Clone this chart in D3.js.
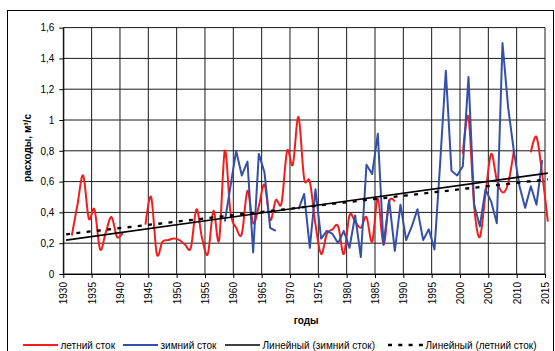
<!DOCTYPE html>
<html>
<head>
<meta charset="utf-8">
<script src="https://cdn.jsdelivr.net/npm/d3@7"></script>
<style>
  body { margin: 0; background: #fff; }
  svg { font-family: "Liberation Sans", Arial, sans-serif; }
  .axis text { font-size: 10px; fill: #000; }
  .axis path, .axis line { stroke: #000; }
  .label { font-size: 10px; font-weight: bold; fill: #000; }
  .legend text { font-size: 10px; fill: #000; }
</style>
</head>
<body>
<svg id="svgChart"></svg>
<script>

/// DATA ////////////////////////////////////////////////////////////////////////////////

var years = d3.range(1930, 2016);

// летний сток, 1930..2015 (null = нет данных)
var summer = [
  null, 0.25, 0.45, 0.64, 0.36, 0.42, 0.16, 0.27, 0.37, 0.24,   // 1930-1939
  0.27, null, null, null, 0.32, 0.50, 0.13, 0.21, 0.22, 0.23,   // 1940-1949
  0.22, 0.19, 0.17, 0.42, 0.23, 0.13, 0.41, 0.22, 0.80, 0.40,   // 1950-1959
  0.30, 0.26, 0.54, 0.33, 0.44, 0.58, 0.35, 0.48, 0.46, 0.80,   // 1960-1969
  0.71, 1.02, 0.62, 0.60, 0.32, 0.13, 0.26, 0.29, 0.31, 0.13,   // 1970-1979
  0.38, 0.34, 0.30, 0.37, 0.21, 0.49, 0.19, 0.47, 0.47, null,   // 1980-1989
  null, null, null, null, null, null, null, null, null, null,   // 1990-1999
  0.78, 1.02, 0.44, 0.24, 0.52, 0.78, 0.61, 0.53, 0.59, 0.80,   // 2000-2009
  null, null, 0.79, 0.89, 0.65, 0.34                            // 2010-2015
];

// зимний сток, 1930..2015
var winter = [
  null, null, null, null, null, null, null, null, null, null,   // 1930-1939
  null, null, null, null, null, null, null, null, null, null,   // 1940-1949
  null, null, null, null, null, null, null, null, 0.34, 0.57,   // 1950-1959
  0.80, 0.64, 0.73, 0.14, 0.78, 0.66, 0.30, 0.28, null, null,   // 1960-1969
  null, 0.42, 0.52, 0.17, 0.55, 0.23, 0.28, 0.26, 0.20, 0.28,   // 1970-1979
  0.17, 0.38, 0.11, 0.71, 0.65, 0.91, 0.19, 0.48, 0.15, 0.45,   // 1980-1989
  0.22, 0.31, 0.42, 0.22, 0.29, 0.16, 0.72, 1.32, 0.67, 0.64,   // 1990-1999
  0.70, 1.28, 0.45, 0.31, 0.55, 0.47, 0.33, 1.50, 1.08, 0.80,   // 2000-2009
  0.57, 0.43, 0.57, 0.45, 0.74, null                            // 2010-2015
];

// linear trend lines (start / end values)
var trendYears = [1930, 2015];
var trendWinter = [0.22, 0.655];
var trendSummer = [0.258, 0.615];

var yTicks = [0, 0.2, 0.4, 0.6, 0.8, 1, 1.2, 1.4, 1.6];
var yTickLabels = ["0", "0,2", "0,4", "0,6", "0,8", "1", "1,2", "1,4", "1,6"];
var xTicks = d3.range(1930, 2016, 5);

var legendItems = [
  { name: "летний сток", color: "#f21d1d", dash: null, width: 2 },
  { name: "зимний сток", color: "#3450a8", dash: null, width: 2 },
  { name: "Линейный (зимний сток)", color: "#000", dash: null, width: 1.6 },
  { name: "Линейный (летний сток)", color: "#000", dash: "4,6.3", width: 2.3 }
];

/// SETUP ///////////////////////////////////////////////////////////////////////////////

var WIDTH = 555, HEIGHT = 351;
var PLOT_LEFT = 63.3, PLOT_RIGHT = 545, PLOT_TOP = 27.6, PLOT_BOTTOM = 274;

var svg = d3.select('#svgChart')
    .attr('width', WIDTH)
    .attr('height', HEIGHT);

// outer chart border
svg.append('rect')
    .attr('x', 7.5).attr('y', 10.5)
    .attr('width', 546).attr('height', 360)
    .attr('fill', 'none')
    .attr('stroke', '#000')
    .attr('stroke-width', 1);

var x = d3.scaleLinear().domain([1930, 2015]).range([PLOT_LEFT, PLOT_RIGHT]);
var y = d3.scaleLinear().domain([0, 1.6]).range([PLOT_BOTTOM, PLOT_TOP]);

// points sit in the middle of each year slot
function px(year) { return x(year + 0.5); }

/////////////////////////////////////////////////////////////////////////////////////////

function drawGrid() {
    var g = svg.append('g').attr('class', 'grid');
    g.selectAll('line.h')
        .data(yTicks)
        .enter()
        .append('line')
            .attr('x1', PLOT_LEFT).attr('x2', PLOT_RIGHT)
            .attr('y1', function (d) { return y(d) })
            .attr('y2', function (d) { return y(d) })
            .attr('stroke', '#1a1a1a')
            .attr('stroke-width', 1);
    g.selectAll('line.v')
        .data(xTicks)
        .enter()
        .append('line')
            .attr('x1', function (d) { return x(d) })
            .attr('x2', function (d) { return x(d) })
            .attr('y1', PLOT_TOP).attr('y2', PLOT_BOTTOM)
            .attr('stroke', '#1a1a1a')
            .attr('stroke-width', 1);
}

function drawAxis() {
    // X-axis
    var xAxis = svg.append('g')
        .attr('class', 'axis')
        .attr('transform', 'translate(0,' + PLOT_BOTTOM + ')')
        .call(d3.axisBottom(x).tickValues(xTicks).tickSize(4).tickSizeOuter(0).tickFormat(d3.format('d')));
    xAxis.selectAll('text')
        .attr('transform', 'rotate(-90)')
        .attr('x', -8)
        .attr('y', 0)
        .attr('dy', '0.35em')
        .style('text-anchor', 'end');

    svg.append('text') // X-axis Label
        .attr('class', 'label')
        .attr('x', (PLOT_LEFT + PLOT_RIGHT) / 2 + 2)
        .attr('y', 324)
        .style('text-anchor', 'middle')
        .text('годы');

    // Y-axis
    svg.append('g')
        .attr('class', 'axis')
        .attr('transform', 'translate(' + PLOT_LEFT + ',0)')
        .call(d3.axisLeft(y).tickValues(yTicks).tickSize(4).tickSizeOuter(0).tickPadding(5)
            .tickFormat(function (d, i) { return yTickLabels[i] }));

    svg.append('text') // Y-axis Label
        .attr('class', 'label')
        .attr('transform', 'translate(31,148) rotate(-90)')
        .style('text-anchor', 'middle')
        .text('расходы, м³/с');
}

function drawSeries() {
    var smooth = d3.line()
        .defined(function (d) { return d.v != null })
        .x(function (d) { return px(d.year) })
        .y(function (d) { return y(d.v) })
        .curve(d3.curveCardinal.tension(0));

    var straight = d3.line()
        .defined(function (d) { return d.v != null })
        .x(function (d) { return px(d.year) })
        .y(function (d) { return y(d.v) });

    var summerData = years.map(function (yr, i) { return { year: yr, v: summer[i] } });
    var winterData = years.map(function (yr, i) { return { year: yr, v: winter[i] } });

    svg.append('path')
        .datum(summerData)
        .attr('d', smooth)
        .attr('fill', 'none')
        .attr('stroke', legendItems[0].color)
        .attr('stroke-width', 2);

    svg.append('path')
        .datum(winterData)
        .attr('d', straight)
        .attr('fill', 'none')
        .attr('stroke', legendItems[1].color)
        .attr('stroke-width', 2)
        .attr('stroke-linejoin', 'round');

    // trend lines
    var trend = d3.line()
        .x(function (d) { return px(d.year) })
        .y(function (d) { return y(d.v) });

    svg.append('path')
        .datum(trendYears.map(function (yr, i) { return { year: yr, v: trendWinter[i] } }))
        .attr('d', trend)
        .attr('fill', 'none')
        .attr('stroke', '#000')
        .attr('stroke-width', legendItems[2].width);

    svg.append('path')
        .datum(trendYears.map(function (yr, i) { return { year: yr, v: trendSummer[i] } }))
        .attr('d', trend)
        .attr('fill', 'none')
        .attr('stroke', '#000')
        .attr('stroke-width', legendItems[3].width)
        .attr('stroke-dasharray', legendItems[3].dash);
}

function drawLegend() {
    var legendX = [23, 123, 225, 388];
    var legend = svg.append('g').attr('class', 'legend');
    var item = legend.selectAll('g')
        .data(legendItems)
        .enter()
        .append('g')
            .attr('transform', function (d, i) { return 'translate(' + legendX[i] + ',345)' });
    item.append('line')
        .attr('x1', 0).attr('x2', 35)
        .attr('stroke', function (d) { return d.color })
        .attr('stroke-width', function (d) { return d.width })
        .attr('stroke-dasharray', function (d) { return d.dash });
    item.append('text')
        .attr('x', 37.5)
        .attr('dy', '0.35em')
        .text(function (d) { return d.name });
}

drawGrid();
drawAxis();
drawSeries();
drawLegend();

</script>
</body>
</html>
